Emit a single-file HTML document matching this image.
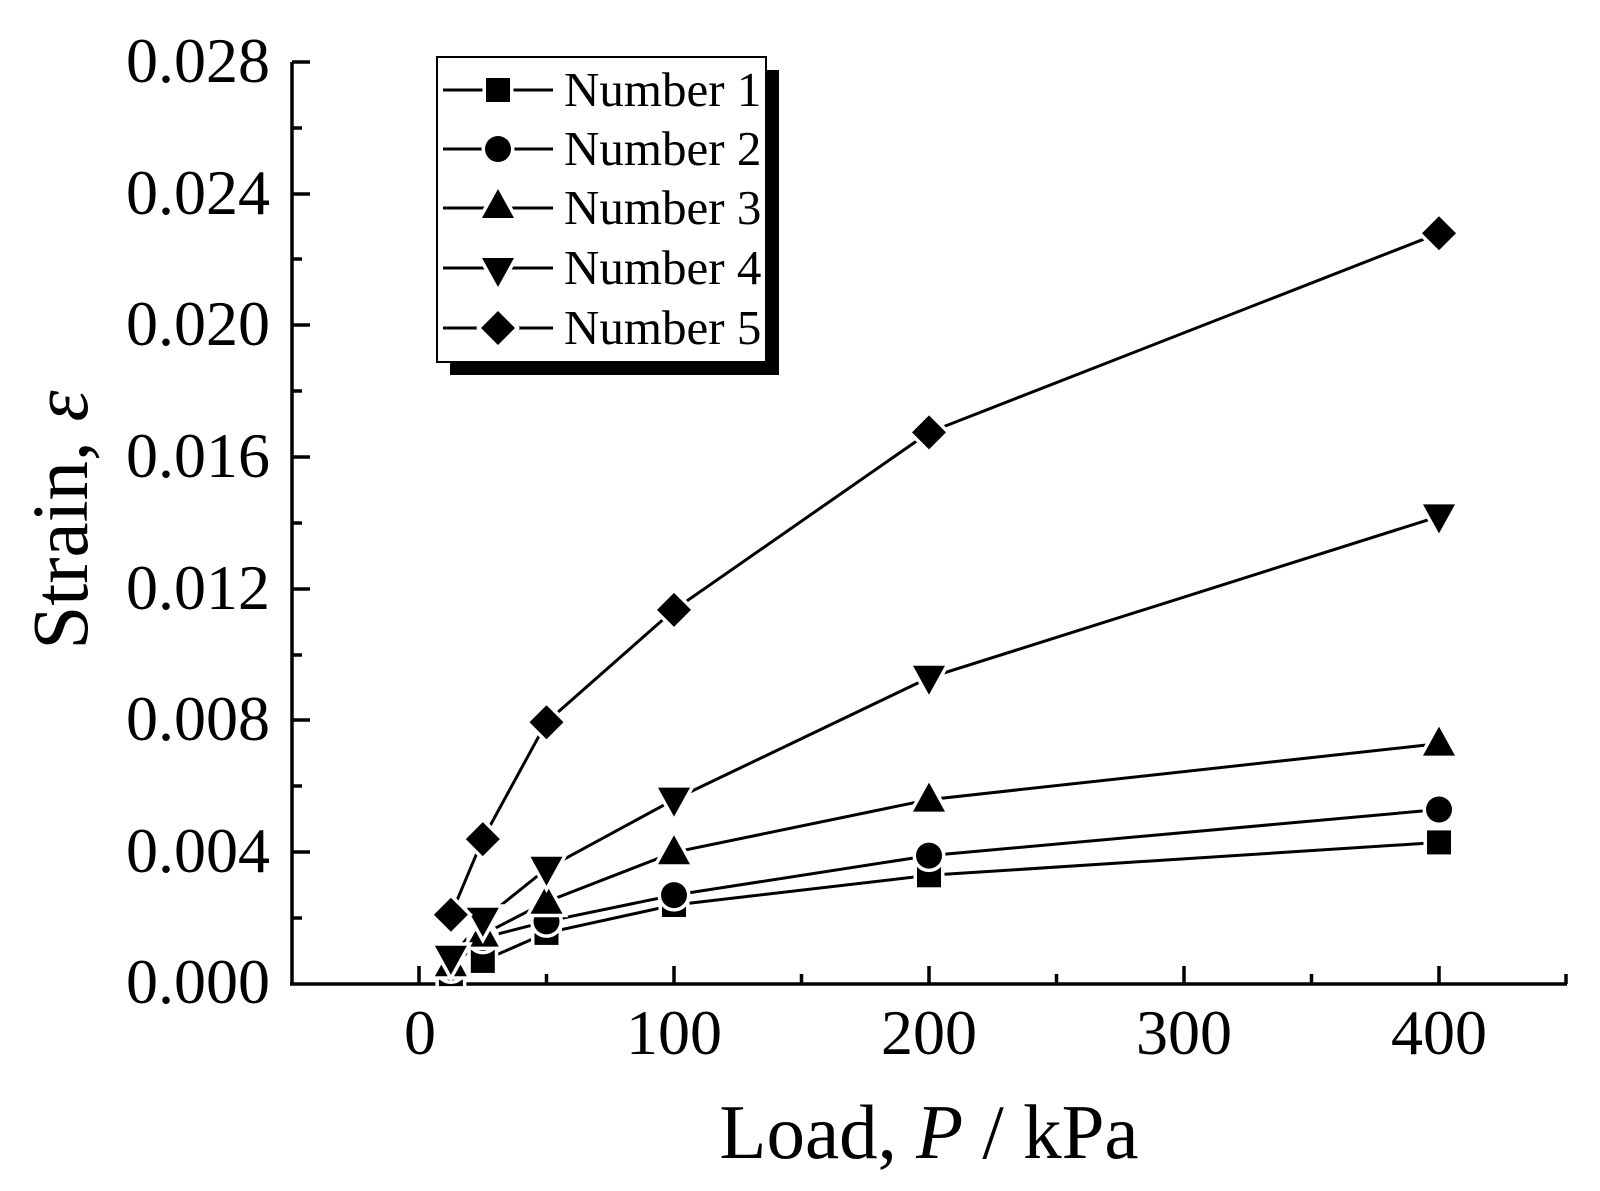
<!DOCTYPE html>
<html><head><meta charset="utf-8"><style>html,body{margin:0;padding:0;background:#fff}svg{display:block}</style></head>
<body>
<svg width="1600" height="1191" viewBox="0 0 1600 1191" xmlns="http://www.w3.org/2000/svg" font-family="'Liberation Serif', serif">
<rect width="1600" height="1191" fill="#fff"/>
<g stroke="#000" stroke-width="3.5" fill="none">
<line x1="292" y1="62" x2="292" y2="985.5"/>
<line x1="290" y1="984" x2="1567" y2="984"/>
<path d="M292 62h18M292 194h18M292 325h18M292 457h18M292 589h18M292 720h18M292 852h18"/>
<path d="M292 128h10M292 259h10M292 391h10M292 523h10M292 655h10M292 786h10M292 918h10"/>
<path d="M419 984v-18M674 984v-18M929 984v-18M1184 984v-18M1439 984v-18"/>
<path d="M546.5 984v-10M801.5 984v-10M1056.5 984v-10M1311.5 984v-10M1566 984v-10"/>
</g>
<g font-size="64" text-anchor="end" fill="#000">
<text x="270" y="1003">0.000</text><text x="270" y="872">0.004</text><text x="270" y="740">0.008</text>
<text x="270" y="609">0.012</text><text x="270" y="477">0.016</text><text x="270" y="345">0.020</text>
<text x="270" y="214">0.024</text><text x="270" y="82">0.028</text>
</g>
<g font-size="64" text-anchor="middle" fill="#000">
<text x="420" y="1054">0</text><text x="674" y="1054">100</text><text x="929" y="1054">200</text>
<text x="1184" y="1054">300</text><text x="1439" y="1054">400</text>
</g>
<text x="929" y="1158" font-size="77" text-anchor="middle">Load, <tspan font-style="italic">P</tspan> / kPa</text>
<text transform="translate(87,520) rotate(-90)" font-size="79" text-anchor="middle">Strain, <tspan font-style="italic">ε</tspan></text>

<defs>
<rect id="sq" x="-12" y="-12" width="24" height="24"/>
<circle id="ci" r="13"/>
<path id="tu" d="M0 -17L16 12H-16Z"/>
<path id="td" d="M0 17L16 -12H-16Z"/>
<path id="di" d="M0 -17L17 0L0 17L-17 0Z"/>
</defs>
<g fill="none" stroke="#000" stroke-width="3">
<polyline points="450.9,974.1 482.8,960.9 546.5,932.9 674,905 929,875.3 1439,842.4"/>
<polyline points="450.9,967.5 482.8,937.9 546.5,921.4 674,895.1 929,855.6 1439,809.5"/>
<polyline points="450.9,964.2 482.8,934.6 546.5,901.7 674,852.3 929,799.6 1439,743.6"/>
<polyline points="450.9,957.7 482.8,919.8 546.5,868.7 674,799.6 929,677.7 1439,516.4"/>
<polyline points="450.9,914.8 482.8,839.1 546.5,722.2 674,609.9 929,432.4 1439,233.2"/>
</g>
<g fill="#000" stroke="#fff" stroke-width="7" paint-order="stroke">
<g><use href="#sq" x="450.9" y="974.1"/><use href="#sq" x="482.8" y="960.9"/><use href="#sq" x="546.5" y="932.9"/><use href="#sq" x="674" y="905"/><use href="#sq" x="929" y="875.3"/><use href="#sq" x="1439" y="842.4"/></g>
<g><use href="#ci" x="450.9" y="967.5"/><use href="#ci" x="482.8" y="937.9"/><use href="#ci" x="546.5" y="921.4"/><use href="#ci" x="674" y="895.1"/><use href="#ci" x="929" y="855.6"/><use href="#ci" x="1439" y="809.5"/></g>
<g><use href="#tu" x="450.9" y="964.2"/><use href="#tu" x="482.8" y="934.6"/><use href="#tu" x="546.5" y="901.7"/><use href="#tu" x="674" y="852.3"/><use href="#tu" x="929" y="799.6"/><use href="#tu" x="1439" y="743.6"/></g>
<g><use href="#td" x="450.9" y="957.7"/><use href="#td" x="482.8" y="919.8"/><use href="#td" x="546.5" y="868.7"/><use href="#td" x="674" y="799.6"/><use href="#td" x="929" y="677.7"/><use href="#td" x="1439" y="516.4"/></g>
<g><use href="#di" x="450.9" y="914.8"/><use href="#di" x="482.8" y="839.1"/><use href="#di" x="546.5" y="722.2"/><use href="#di" x="674" y="609.9"/><use href="#di" x="929" y="432.4"/><use href="#di" x="1439" y="233.2"/></g>
</g>

<rect x="450" y="70" width="329" height="305" fill="#000"/>
<rect x="437" y="57" width="329" height="305" fill="#fff" stroke="#000" stroke-width="2"/>
<g stroke="#000" stroke-width="3">
<path d="M443 90h110M443 149h110M443 208h110M443 268h110M443 328h110"/>
</g>
<g fill="#000" stroke="#fff" stroke-width="7" paint-order="stroke">
<use href="#sq" x="498" y="90"/><use href="#ci" x="498" y="149"/><use href="#tu" x="498" y="206"/><use href="#td" x="498" y="270"/><use href="#di" x="498" y="328"/>
</g>
<g font-size="49" fill="#000">
<text x="564" y="106">Number 1</text><text x="564" y="165">Number 2</text><text x="564" y="224">Number 3</text>
<text x="564" y="284">Number 4</text><text x="564" y="344">Number 5</text>
</g>
</svg>
</body></html>
